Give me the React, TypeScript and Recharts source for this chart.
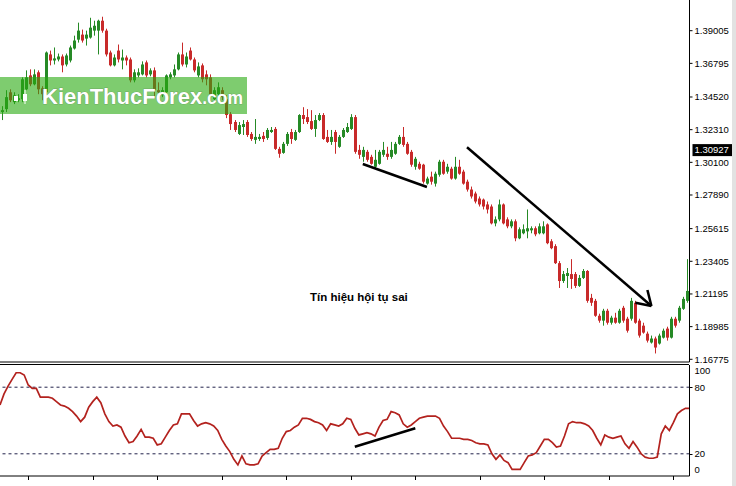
import { Bar, ComposedChart, Line, ReferenceLine, XAxis, YAxis } from 'recharts'

// OHLC, one candle every bar (172 bars)
const opens = [
  1.335, 1.337, 1.3484, 1.3417, 1.343, 1.3437, 1.3504, 1.3598, 1.3538, 1.3619,
  1.3511, 1.3484, 1.374, 1.3699, 1.3706, 1.3726, 1.3672, 1.3699, 1.378, 1.384,
  1.3874, 1.3847, 1.3854, 1.3901, 1.3901, 1.3968, 1.3901, 1.3753, 1.3666, 1.3766,
  1.3699, 1.3719, 1.3706, 1.3565, 1.3598, 1.3605, 1.3686, 1.3605, 1.3632, 1.3498,
  1.3464, 1.3484, 1.3585, 1.3598, 1.3639, 1.374, 1.3672, 1.3766, 1.3706, 1.3598,
  1.3666, 1.3605, 1.3585, 1.3437, 1.3471, 1.3498, 1.3437, 1.3336, 1.3283, 1.3202,
  1.3249, 1.3283, 1.3202, 1.3162, 1.3168, 1.3189, 1.3175, 1.3215, 1.3236, 1.3101,
  1.3074, 1.3135, 1.3215, 1.3162, 1.3215, 1.333, 1.3316, 1.3289, 1.3236, 1.3296,
  1.333, 1.3182, 1.3148, 1.3215, 1.3115, 1.3182, 1.3215, 1.3236, 1.3316, 1.3094,
  1.3047, 1.3081, 1.3047, 1.298, 1.3, 1.3061, 1.3068, 1.3047, 1.3068, 1.3135,
  1.3182, 1.3135, 1.3081, 1.298, 1.3, 1.2994, 1.2866, 1.2913, 1.2866, 1.2926,
  1.3014, 1.2947, 1.2967, 1.29, 1.298, 1.2947, 1.2879, 1.2826, 1.2799, 1.2765,
  1.2758, 1.2725, 1.2711, 1.2597, 1.2624, 1.2725, 1.2624, 1.2577, 1.2611, 1.2496,
  1.253, 1.2543, 1.255, 1.2564, 1.253, 1.253, 1.259, 1.2476, 1.2443, 1.2328,
  1.2207, 1.2241, 1.2254, 1.2254, 1.2174, 1.2228, 1.2275, 1.2093, 1.2073, 1.1972,
  1.1939, 1.2006, 1.1925, 1.1959, 1.1925, 1.2026, 1.1952, 1.1952, 1.206, 1.1939,
  1.1905, 1.1851, 1.1791, 1.1818, 1.1784, 1.1824, 1.1885, 1.1824, 1.1952, 1.1939,
  1.2019, 1.2073,
]
const closes = [
  1.3363, 1.3451, 1.343, 1.3464, 1.3444, 1.3572, 1.3585, 1.3538, 1.3605, 1.3504,
  1.3471, 1.3753, 1.3699, 1.3713, 1.3726, 1.3666, 1.3733, 1.3787, 1.3834, 1.3901,
  1.3834, 1.3874, 1.3921, 1.3934, 1.3968, 1.3901, 1.374, 1.3666, 1.3719, 1.3706,
  1.3719, 1.3699, 1.3565, 1.3619, 1.3619, 1.3672, 1.3598, 1.3632, 1.3498, 1.3484,
  1.3498, 1.3598, 1.3605, 1.3639, 1.374, 1.3672, 1.3726, 1.3706, 1.3632, 1.3659,
  1.3572, 1.3572, 1.3471, 1.3498, 1.3518, 1.3451, 1.333, 1.3269, 1.3229, 1.3262,
  1.3269, 1.3195, 1.3168, 1.3182, 1.3182, 1.3168, 1.3229, 1.3229, 1.3101, 1.3068,
  1.3135, 1.3202, 1.3168, 1.3215, 1.333, 1.3303, 1.3283, 1.3236, 1.3296, 1.333,
  1.3168, 1.3148, 1.3182, 1.3148, 1.3182, 1.3229, 1.3249, 1.3316, 1.3081, 1.3061,
  1.3094, 1.3027, 1.3, 1.3027, 1.3081, 1.3094, 1.3047, 1.3094, 1.3135, 1.3182,
  1.3128, 1.3068, 1.2994, 1.3034, 1.2967, 1.2879, 1.29, 1.2879, 1.2933, 1.3014,
  1.2933, 1.298, 1.29, 1.298, 1.2933, 1.2866, 1.2826, 1.2779, 1.2745, 1.2725,
  1.2711, 1.2691, 1.2597, 1.2624, 1.2725, 1.2597, 1.2577, 1.2611, 1.2496, 1.2557,
  1.2557, 1.2564, 1.2564, 1.2523, 1.2577, 1.2577, 1.2463, 1.2429, 1.2328, 1.2207,
  1.2254, 1.2261, 1.2221, 1.2174, 1.2228, 1.2275, 1.2073, 1.206, 1.1972, 1.1939,
  1.2006, 1.1925, 1.1959, 1.1925, 1.2006, 1.1939, 1.1871, 1.2073, 1.1925, 1.1838,
  1.1858, 1.1804, 1.1818, 1.1757, 1.1838, 1.1871, 1.1824, 1.1952, 1.1905, 1.2026,
  1.2086, 1.214,
]
const highs = [
  1.339, 1.3498, 1.3504, 1.3484, 1.3471, 1.3585, 1.3632, 1.3639, 1.3639, 1.3632,
  1.3525, 1.376, 1.3766, 1.3787, 1.3746, 1.374, 1.3746, 1.38, 1.3867, 1.3955,
  1.3908, 1.3901, 1.3988, 1.3968, 1.3975, 1.3995, 1.3914, 1.3766, 1.374, 1.3807,
  1.3773, 1.3733, 1.3719, 1.3639, 1.3646, 1.3693, 1.3699, 1.3646, 1.3652, 1.3551,
  1.3518, 1.3605, 1.3619, 1.3672, 1.3753, 1.382, 1.3753, 1.3787, 1.3719, 1.3686,
  1.3679, 1.3632, 1.3605, 1.3518, 1.3551, 1.3518, 1.3464, 1.335, 1.3296, 1.3283,
  1.3296, 1.3296, 1.3215, 1.3303, 1.3202, 1.3215, 1.3242, 1.3249, 1.3249, 1.3115,
  1.3148, 1.3215, 1.3236, 1.3229, 1.3336, 1.3383, 1.337, 1.3363, 1.333, 1.3343,
  1.3343, 1.3229, 1.3229, 1.3229, 1.3195, 1.3242, 1.3276, 1.3336, 1.333, 1.3128,
  1.3115, 1.3094, 1.3061, 1.3094, 1.3094, 1.3148, 1.3115, 1.3148, 1.3148, 1.3195,
  1.3249, 1.3148, 1.3094, 1.3047, 1.3014, 1.3, 1.2913, 1.2947, 1.2947, 1.3027,
  1.3027, 1.3, 1.298, 1.3047, 1.3027, 1.296, 1.2893, 1.2846, 1.2812, 1.2779,
  1.2765, 1.2745, 1.2725, 1.2644, 1.2758, 1.2732, 1.2638, 1.2624, 1.2624, 1.257,
  1.259, 1.2691, 1.2577, 1.2577, 1.2597, 1.2611, 1.2597, 1.249, 1.2456, 1.2342,
  1.2275, 1.2295, 1.2355, 1.2268, 1.2248, 1.2288, 1.2281, 1.212, 1.2086, 1.1986,
  1.2019, 1.2019, 1.1972, 1.1992, 1.2019, 1.2039, 1.1965, 1.2093, 1.2073, 1.1952,
  1.1925, 1.1865, 1.1838, 1.1831, 1.1851, 1.1885, 1.1898, 1.1965, 1.1965, 1.2039,
  1.21, 1.2355,
]
const lows = [
  1.3296, 1.335, 1.3417, 1.3404, 1.3417, 1.3417, 1.3498, 1.3525, 1.3531, 1.3471,
  1.343, 1.3471, 1.3666, 1.3672, 1.3693, 1.3619, 1.3659, 1.3686, 1.3773, 1.382,
  1.382, 1.38, 1.3847, 1.3867, 1.374, 1.3887, 1.3726, 1.3659, 1.3659, 1.3686,
  1.3639, 1.3666, 1.3551, 1.3551, 1.3585, 1.3598, 1.3585, 1.3592, 1.3451, 1.3451,
  1.3451, 1.3471, 1.3572, 1.3585, 1.3632, 1.3659, 1.3652, 1.3699, 1.3619, 1.3585,
  1.3551, 1.3531, 1.3451, 1.3417, 1.3451, 1.343, 1.3309, 1.3229, 1.3215, 1.3195,
  1.3195, 1.3182, 1.3155, 1.3135, 1.3155, 1.3148, 1.3162, 1.3209, 1.3094, 1.3041,
  1.3068, 1.3121, 1.3135, 1.3155, 1.3209, 1.3269, 1.3269, 1.3229, 1.3182, 1.3289,
  1.3162, 1.3141, 1.3128, 1.3068, 1.3108, 1.3175, 1.3209, 1.3229, 1.3068, 1.3034,
  1.3014, 1.3014, 1.2994, 1.2967, 1.2994, 1.3047, 1.3027, 1.3034, 1.3061, 1.3128,
  1.3115, 1.3061, 1.298, 1.296, 1.296, 1.2866, 1.2859, 1.2859, 1.2846, 1.2913,
  1.2926, 1.2933, 1.2893, 1.2893, 1.2926, 1.2859, 1.2812, 1.2765, 1.2732, 1.2711,
  1.2691, 1.2664, 1.259, 1.2577, 1.2611, 1.259, 1.2564, 1.2564, 1.2476, 1.249,
  1.2523, 1.2496, 1.253, 1.251, 1.2523, 1.2523, 1.2456, 1.2422, 1.2322, 1.216,
  1.2194, 1.216, 1.2154, 1.216, 1.2167, 1.2221, 1.206, 1.2039, 1.1965, 1.1925,
  1.1905, 1.1912, 1.1912, 1.1918, 1.1918, 1.1925, 1.1858, 1.1939, 1.1918, 1.1824,
  1.1851, 1.1791, 1.1784, 1.1717, 1.1777, 1.1818, 1.1804, 1.1818, 1.1892, 1.1925,
  1.2012, 1.206,
]
// lower panel oscillator (0..100)
const oscillator = [
  64, 74, 81, 87, 93, 93, 91, 82, 79, 79, 71, 71, 71, 70, 67, 64, 63, 61, 58, 54,
  49, 53, 62, 67, 71, 66, 56, 49, 45, 46, 44, 36, 30, 31, 36, 42, 35, 35, 34, 28,
  29, 35, 41, 46, 47, 56, 56, 56, 50, 45, 47, 48, 47, 45, 41, 33, 27, 22, 15, 10,
  18, 11, 10, 10, 11, 18, 21, 24, 24, 25, 34, 40, 41, 44, 46, 52, 52, 51, 49, 48,
  46, 41, 47, 46, 45, 47, 52, 51, 43, 37, 38, 39, 38, 36, 44, 50, 51, 58, 57, 55,
  47, 44, 46, 49, 52, 53, 54, 54, 54, 52, 45, 40, 34, 34, 34, 33, 33, 32, 30, 29,
  29, 28, 20, 15, 19, 14, 12, 6, 6, 6, 12, 18, 19, 21, 27, 33, 33, 30, 26, 27,
  36, 47, 49, 48, 48, 47, 45, 41, 34, 28, 37, 35, 34, 35, 36, 29, 25, 31, 26, 20,
  17, 16, 16, 17, 38, 45, 41, 48, 56, 59, 61, 61,
]
const priceTicks = [1.16775, 1.18985, 1.21195, 1.23405, 1.25615, 1.2789, 1.301, 1.3231, 1.3452, 1.36795, 1.39005]
const oscTicks = [0, 20, 80, 100]
const oscLevels = [20, 80]
const lastPrice = 1.30927
const timeTickBars = [7, 23, 39, 55, 71, 87, 103, 119, 135, 151, 167]

const GREEN = '#268a26'
const RED = '#c82a2a'
const OSC = '#b3221e'
const FONT = '"Liberation Sans", Arial, sans-serif'

const rows = opens.map((open, i) => ({
  i,
  open,
  close: closes[i],
  high: highs[i],
  low: lows[i],
  range: [lows[i], highs[i]],
  osc: oscillator[i],
}))

function Candle(props: any) {
  const { x, y, width, height } = props
  const p = props.payload ?? rows[props.index]
  if (!p) return <g />
  const top0 = Math.min(y, y + height)
  const h0 = Math.abs(height)
  const color = p.close >= p.open ? GREEN : RED
  const k = h0 / (p.high - p.low || 1)
  const bodyTop = top0 + (p.high - Math.max(p.open, p.close)) * k
  const bodyH = Math.max(1, Math.abs(p.close - p.open) * k)
  const cx = Math.floor(x + width / 2) + 0.5
  return (
    <g>
      <line x1={cx} x2={cx} y1={top0} y2={top0 + h0} stroke={color} strokeWidth={1} />
      <rect x={cx - 1.5} y={bodyTop} width={3} height={bodyH} fill={color} />
    </g>
  )
}

function PriceTag(props: any) {
  const vb = props.viewBox
  if (!vb) return null
  const x = vb.x + vb.width + 3
  return (
    <g>
      <rect x={x} y={vb.y - 6} width={43} height={12} fill="#000" />
      <text x={x + 2} y={vb.y} dy="0.35em" fill="#fff" fontSize={9.5} fontFamily={FONT}>
        {lastPrice.toFixed(5)}
      </text>
    </g>
  )
}

function TimeTick(props: any) {
  const { x, y, payload } = props
  if (!timeTickBars.includes(payload?.value)) return <g />
  const px = Math.round(x) + 0.5
  return <line x1={px} x2={px} y1={y} y2={y + 4} stroke="#000" />
}

function OscTick(props: any) {
  const { x, y, payload } = props
  const v = payload.value
  const shift = v === 100 ? 6 : v === 0 ? -6 : 0
  const ly = Math.round(y) + 0.5
  return (
    <g>
      {oscLevels.includes(v) && <line x1={x - 5} x2={x - 2} y1={ly} y2={ly} stroke="#000" />}
      <text x={x} y={y + shift} dy="0.35em" fontSize={9.5} fontFamily={FONT} fill="#000">
        {v}
      </text>
    </g>
  )
}

const segStyle = { stroke: '#000', strokeWidth: 2.5 }

export default function App() {
  return (
    <div style={{ position: 'relative', width: 736, height: 486, overflow: 'hidden', background: '#fff' }}>
      <style>{'body{margin:0}'}</style>

      <ComposedChart width={736} height={364} data={rows} margin={{ top: 0, right: 0, left: 0, bottom: 0 }} barSize={3}>
        <XAxis dataKey="i" height={2} tick={false} tickLine={false} axisLine={{ stroke: '#000' }} />
        <YAxis
          orientation="right"
          width={46.5}
          type="number"
          domain={[1.16592, 1.41082]}
          allowDataOverflow
          ticks={priceTicks}
          interval={0}
          tickFormatter={(v: number) => v.toFixed(5)}
          tick={{ fill: '#000', fontSize: 9.5, fontFamily: FONT }}
          tickSize={3}
          tickMargin={2}
          tickLine={{ stroke: '#000' }}
          axisLine={{ stroke: '#000' }}
        />
        <Bar dataKey="range" isAnimationActive={false} shape={(p: any) => <Candle {...p} />} />
        <ReferenceLine y={lastPrice} stroke="transparent" label={<PriceTag />} />
        <ReferenceLine segment={[{ x: 90, y: 1.2999 }, { x: 106, y: 1.2843 }]} {...segStyle} />
        <ReferenceLine segment={[{ x: 116, y: 1.3112 }, { x: 162, y: 1.2038 }]} {...segStyle} />
        <ReferenceLine segment={[{ x: 161, y: 1.2146 }, { x: 162, y: 1.2038 }]} {...segStyle} />
        <ReferenceLine segment={[{ x: 158, y: 1.206 }, { x: 162, y: 1.2038 }]} {...segStyle} />
      </ComposedChart>

      <div style={{ position: 'absolute', left: 0, top: 363 }}>
        <ComposedChart width={736} height={123} data={rows} margin={{ top: 2, right: 0, left: 0, bottom: 0 }}>
          <XAxis
            dataKey="i"
            height={10}
            interval={0}
            tickLine={false}
            tickSize={0}
            tickMargin={0}
            tick={(p: any) => <TimeTick {...p} />}
            axisLine={{ stroke: '#000' }}
          />
          <YAxis
            orientation="right"
            width={46.5}
            type="number"
            domain={[0, 100]}
            ticks={oscTicks}
            interval={0}
            tickSize={3}
            tickMargin={2}
            tickLine={false}
            tick={(p: any) => <OscTick {...p} />}
            axisLine={{ stroke: '#000' }}
          />
          {oscLevels.map((lv) => (
            <ReferenceLine key={lv} y={lv} stroke="#22224a" strokeDasharray="3 3" />
          ))}
          <Line
            type="linear"
            dataKey="osc"
            stroke={OSC}
            strokeWidth={1.7}
            dot={false}
            activeDot={false}
            isAnimationActive={false}
          />
          <ReferenceLine segment={[{ x: 88, y: 26.4 }, { x: 103, y: 43 }]} {...segStyle} />
        </ComposedChart>
      </div>

      <div style={{ position: 'absolute', left: 0, top: 364, width: 689, height: 1, background: '#000' }} />
      <div style={{ position: 'absolute', left: 732, top: 0, width: 4, height: 486, background: '#e2e2e2' }} />

      <svg width={736} height={486} style={{ position: 'absolute', left: 0, top: 0, pointerEvents: 'none' }}>
        <rect x={0} y={77} width={247} height={37} fill="rgb(40,170,15)" fillOpacity={0.6} />
        <rect x={14} y={96} width={4} height={5} fill="#fff" />
        <rect x={23} y={94} width={4} height={7} fill="#fff" />
        <line x1={25} x2={25} y1={90} y2={104} stroke="#fff" />
        <text x={42} y={104} fill="#fff" fontFamily={FONT} fontWeight="bold" fontSize={22} stroke="#5b8f52" strokeWidth={0.6} paintOrder="stroke">
          KienThucForex<tspan fontSize={17.5}>.com</tspan>
        </text>
        <text x={310} y={301} fill="#000" fontFamily={FONT} fontWeight="bold" fontSize={11.5}>
          Tín hiệu hội tụ sai
        </text>
      </svg>
    </div>
  )
}
